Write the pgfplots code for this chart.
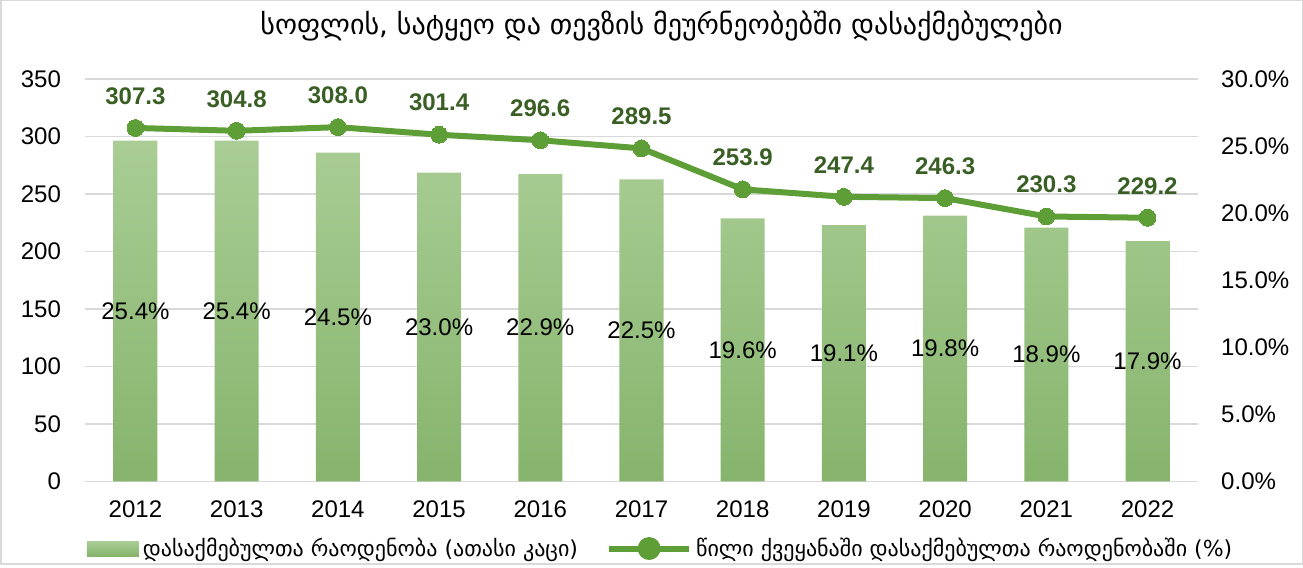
\documentclass[border=0pt]{standalone}
\usepackage{pgfplots}
\usepackage{pgfplotstable}
\pgfplotsset{compat=1.18}
\usepackage{fontspec}
\setmainfont{Liberation Sans}
\newfontfamily\geo{DejaVu Sans}

\definecolor{barTop}{HTML}{A9CD95}
\definecolor{barBot}{HTML}{86B46C}
\definecolor{lineGreen}{HTML}{5E9E37}
\definecolor{lblGreen}{HTML}{3A5F25}
\definecolor{gridGray}{HTML}{D9D9D9}

% x, year, share (%), employed (thousand)
\pgfplotstableread{
x year share count
0 2012 25.4 307.3
1 2013 25.4 304.8
2 2014 24.5 308.0
3 2015 23.0 301.4
4 2016 22.9 296.6
5 2017 22.5 289.5
6 2018 19.6 253.9
7 2019 19.1 247.4
8 2020 19.8 246.3
9 2021 18.9 230.3
10 2022 17.9 229.2
}\datatable

\pgfplotsset{
  base/.style={
    scale only axis, width=556pt, height=201pt,
    xmin=-0.5, xmax=10.5,
    /pgf/number format/assume math mode=true,
    tick label style={font=\fontsize{12}{14}\selectfont},
    major tick length=0pt,
    axis line style={draw=none},
  },
}

\begin{document}
\begin{tikzpicture}
% frame
\draw[gridGray, line width=0.75pt] (-42pt,-41.25pt) rectangle (608pt,240pt);

% left axis with grid and years
\begin{axis}[base,
  ymin=0, ymax=350, ytick={0,50,...,350},
  ymajorgrids, grid style={gridGray, line width=0.8pt},
  xtick={0,...,10},
  xticklabels={2012,2013,2014,2015,2016,2017,2018,2019,2020,2021,2022},
  x tick label style={yshift=-6pt},
  y tick label style={xshift=-8.4pt},
  title={\geo\fontsize{14}{16}\selectfont სოფლის, სატყეო და თევზის მეურნეობებში დასაქმებულები},
  title style={at={(0.518,1)}, anchor=center, yshift=20.5pt},
]
\addplot[draw=none] coordinates {(0,0)};
\end{axis}

% right axis: bars (share, %)
\begin{axis}[base,
  ymin=0, ymax=30, ytick={0,5,...,30},
  yticklabel pos=right,
  yticklabel={\pgfmathprintnumber[fixed,fixed zerofill,precision=1]{\tick}\%},
  y tick label style={xshift=8pt},
  xtick=\empty,
]
\addplot[ybar, bar width=0.435, draw=none, top color=barTop, bottom color=barBot,
  point meta=y,
  nodes near coords={\pgfmathprintnumber[fixed,fixed zerofill,precision=1]{\pgfplotspointmeta}\%},
  visualization depends on={y \as \rawy},
  nodes near coords style={font=\fontsize{12}{14}\selectfont, text=black, anchor=center,
    shift={(axis direction cs:0,-\rawy/2)}},
] table[x=x, y=share] {\datatable};
\end{axis}

% line (employed, thousand) on the left scale
\begin{axis}[base,
  ymin=0, ymax=350, hide axis,
  legend columns=2,
  legend style={draw=none, fill=none, at={(0.518,-0.167)}, anchor=center,
    font=\geo\fontsize{11}{13}\selectfont,
    /tikz/every even column/.append style={column sep=12pt}},
]
\addlegendimage{legend image code/.code={\shade[draw=none, top color=barTop, bottom color=barBot] (0pt,-3.75pt) rectangle (26pt,3.75pt);}}
\addlegendentry{დასაქმებულთა რაოდენობა (ათასი კაცი)}
\addplot[lineGreen, line width=3pt, mark=*, mark size=4.2pt,
  mark options={fill=lineGreen, draw=lineGreen, line width=0pt},
  point meta=explicit symbolic,
  nodes near coords,
  nodes near coords style={font=\bfseries\fontsize{12}{14}\selectfont, text=lblGreen, anchor=south, yshift=8.4pt},
  legend image code/.code={\draw[lineGreen, line width=3pt] (0pt,0pt) -- (40pt,0pt);
    \fill[lineGreen] (20pt,0pt) circle (4.2pt);},
] table[x=x, y=count, meta=count] {\datatable};
\addlegendentry{წილი ქვეყანაში დასაქმებულთა რაოდენობაში (\%)}
\end{axis}
\end{tikzpicture}
\end{document}
